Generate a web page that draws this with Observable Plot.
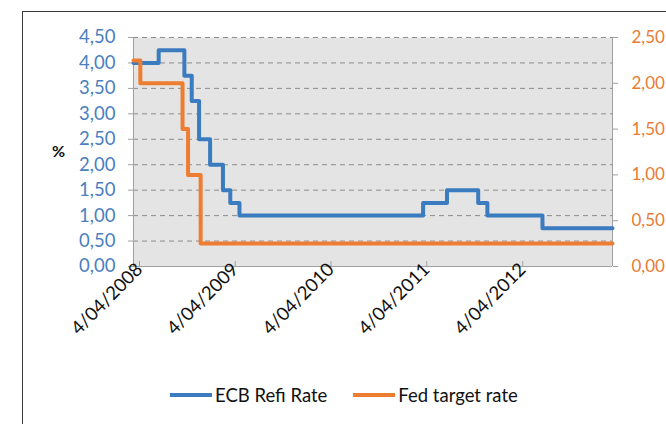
<!DOCTYPE html>
<html>
<head>
<meta charset="utf-8">
<script src="https://cdn.jsdelivr.net/npm/d3@7"></script>
<script src="https://cdn.jsdelivr.net/npm/@observablehq/plot@0.6"></script>
<style>
  html, body { margin:0; padding:0; background:#fff; }
  body { width:666px; height:424px; overflow:hidden; position:relative; font-family:Lato, "Open Sans", sans-serif; }
  #frame { position:absolute; left:22px; top:11px; width:800px; height:600px; border:1px solid #3a3a3a; box-sizing:border-box; }
  #chart { position:absolute; left:0; top:0; }
  #pct { position:absolute; left:52px; top:141px; font-weight:bold; font-size:16px; color:#111; }
  #legend { position:absolute; left:170px; top:384px; display:flex; align-items:center; font-size:18.5px; color:#111; }
  .item { display:flex; align-items:center; margin-right:26px; }
  .sw { width:42px; height:4px; margin-right:3px; }
</style>
</head>
<body>
<div id="frame"></div>
<div id="chart"></div>
<div id="pct">%</div>
<div id="legend"></div>
<script>
// ---- data ----
const ecbDates = ["2008-04-04","2008-07-09","2008-10-15","2008-11-12","2008-12-10","2009-01-21","2009-03-11","2009-04-08","2009-05-13","2011-04-13","2011-07-13","2011-11-09","2011-12-14","2012-07-11","2013-04-04"];
const ecbRates = [4.00, 4.25, 3.75, 3.25, 2.50, 2.00, 1.50, 1.25, 1.00, 1.25, 1.50, 1.25, 1.00, 0.75, 0.75];
const fedDates = ["2008-04-04","2008-04-30","2008-10-08","2008-10-29","2008-12-16","2013-04-04"];
const fedRates = [2.25, 2.00, 1.50, 1.00, 0.25, 0.25];
const leftTicks = [0, 0.5, 1, 1.5, 2, 2.5, 3, 3.5, 4, 4.5];
const rightTicks = [0, 0.5, 1, 1.5, 2, 2.5];
const xTickDates = ["2008-04-04","2009-04-04","2010-04-04","2011-04-04","2012-04-04"];
const xDomain = ["2008-04-04","2013-04-04"];
const seriesNames = ["ECB Refi Rate", "Fed target rate"];

// ---- styles ----
const blue = "#3b7bbf", orange = "#ed7d31";
const leftText = "#4a7fc0", rightText = "#e97b34";
const axisGray = "#a0a0a0";
const leftMax = leftTicks[leftTicks.length - 1], rightMax = rightTicks[rightTicks.length - 1];
const k = leftMax / rightMax;

const ecb = ecbDates.map((d, i) => ({date: new Date(d), rate: ecbRates[i]}));
const fed = fedDates.map((d, i) => ({date: new Date(d), rate: fedRates[i]}));
const xd = xDomain.map(d => new Date(d));
const fmt = v => v.toFixed(2).replace(".", ",");

const chart = Plot.plot({
  width: 666, height: 380,
  marginLeft: 133, marginRight: 54, marginTop: 37, marginBottom: 114,
  style: {fontFamily: "Lato, 'Open Sans', sans-serif", fontSize: "18.5px", background: "transparent", overflow: "visible"},
  x: {type: "utc", domain: xd},
  y: {domain: [0, leftMax]},
  marks: [
    Plot.frame({fill: "#e4e4e4", stroke: "none"}),
    Plot.gridY(leftTicks.slice(1), {stroke: "#8c8c8c", strokeOpacity: 1, strokeDasharray: "5,4"}),
    Plot.ruleX([xd[0]], {stroke: axisGray}),
    Plot.ruleX([xd[1]], {stroke: axisGray}),
    Plot.ruleY([0], {stroke: axisGray}),
    Plot.axisY(leftTicks, {anchor: "left", tickSize: 5, tickPadding: 13, stroke: axisGray, fill: leftText, tickFormat: fmt, label: null}),
    Plot.axisY(rightTicks.map(v => v * k), {anchor: "right", tickSize: 5, tickPadding: 14, fontSize: 17, stroke: axisGray, fill: rightText, tickFormat: v => fmt(v / k), label: null}),
    Plot.axisX(xTickDates.map(d => new Date(d)), {tickSize: 5, tickPadding: 0, tickRotate: -45, dx: 6, dy: -5, stroke: axisGray, fill: "#111", tickFormat: d3.utcFormat("%-d/%m/%Y"), label: null}),
    Plot.line(ecb, {x: "date", y: "rate", curve: "step-after", stroke: blue, strokeWidth: 4}),
    Plot.line(fed, {x: "date", y: d => d.rate * k, curve: "step-after", stroke: orange, strokeWidth: 4})
  ]
});
document.getElementById("chart").appendChild(chart);

const legend = document.getElementById("legend");
[blue, orange].forEach((c, i) => {
  const it = document.createElement("div");
  it.className = "item";
  const sw = document.createElement("div");
  sw.className = "sw";
  sw.style.background = c;
  const tx = document.createElement("span");
  tx.textContent = seriesNames[i];
  it.appendChild(sw); it.appendChild(tx);
  legend.appendChild(it);
});
</script>
</body>
</html>
